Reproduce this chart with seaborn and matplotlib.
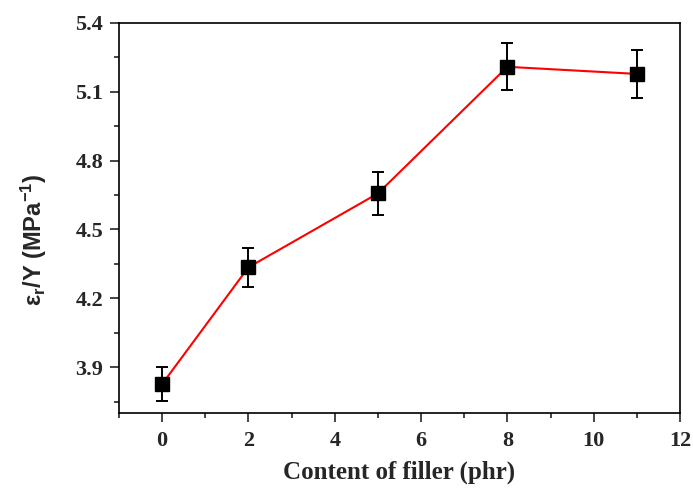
import seaborn as sns
import matplotlib.pyplot as plt
import pandas as pd
from matplotlib.ticker import MultipleLocator

filler = [0, 2, 5, 8, 11]
ratio = [3.826, 4.335, 4.657, 5.209, 5.178]
err = [0.075, 0.085, 0.092, 0.103, 0.105]

df = pd.DataFrame({'filler': filler, 'ratio': ratio, 'err': err})

sns.set_style('ticks')
plt.rcParams['font.family'] = ['Liberation Serif', 'DejaVu Serif']
plt.rcParams['font.weight'] = 'bold'
plt.rcParams['mathtext.default'] = 'regular'

fig = plt.figure(figsize=(6.93, 4.88), dpi=100)
ax = fig.add_axes([0.1717, 0.1537, 0.9812 - 0.1717, 0.9529 - 0.1537])

# red connecting line
sns.lineplot(data=df, x='filler', y='ratio', color='red', linewidth=1.5, ax=ax, zorder=2)
# error bars and square markers
ax.errorbar(df['filler'], df['ratio'], yerr=df['err'], fmt='s', color='black',
            markersize=9.5, capsize=4, elinewidth=1.4, capthick=1.4, zorder=3)

ax.set_xlim(-1, 12)
ax.set_ylim(3.70, 5.4)
ax.xaxis.set_major_locator(MultipleLocator(2))
ax.xaxis.set_minor_locator(MultipleLocator(1))
ax.yaxis.set_minor_locator(MultipleLocator(0.15))
ax.set_yticks([3.9, 4.2, 4.5, 4.8, 5.1, 5.4])
ax.set_yticklabels(['3.9', '4.2', '4.5', '4.8', '5.1', '5.4'])

ax.tick_params(which='major', direction='out', length=6.5, width=1.2, labelsize=16,
               top=False, right=False)
ax.tick_params(axis='y', which='major', pad=5)
ax.tick_params(axis='x', which='major', pad=6.5)
ax.tick_params(which='minor', direction='out', length=3.6, width=1.2, top=False, right=False)
for s in ax.spines.values():
    s.set_linewidth(1.2)
    s.set_color('black')

ax.set_xlabel('Content of filler (phr)', fontsize=18, fontweight='bold', labelpad=7)
ax.set_ylabel('ε$_{r}$/Y (MPa$^{-1}$)', fontsize=17, fontweight='bold',
              family=['Liberation Sans', 'DejaVu Sans'])
ax.yaxis.set_label_coords(-0.125, 0.444)

fig.savefig('out.png', dpi=100)
